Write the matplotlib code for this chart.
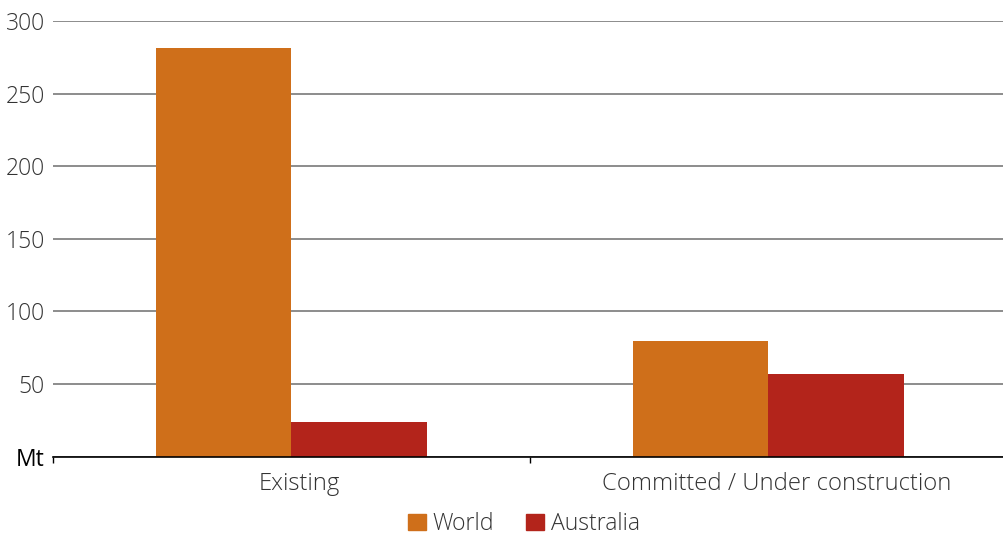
import numpy as np
import matplotlib.pyplot as plt
from matplotlib.patches import Patch
from matplotlib.transforms import ScaledTranslation

categories = ["Existing", "Committed / Under construction"]
world = [281.5, 79.5]
australia = [24, 57]
yticks = [0, 50, 100, 150, 200, 250, 300]
ylabels = ["Mt", "50", "100", "150", "200", "250", "300"]

orange = "#cf6f1a"
red = "#b3241b"

plt.rcParams['font.family'] = ['Open Sans', 'DejaVu Sans']
plt.rcParams['font.weight'] = 'light'

fig = plt.figure(figsize=(10.04, 5.34), dpi=100)
ax = fig.add_axes([53/1004, 1-456.5/534, (1007-53)/1004, (456.5-21)/534])

x = np.arange(len(categories)) + 0.5
w = 0.285
ax.bar(x - w/2, world, w, color=orange, zorder=3)
ax.bar(x + w/2, australia, w, color=red, zorder=3)

ax.set_xlim(0, 2)
ax.set_ylim(0, 300)
ax.set_yticks(yticks)
ax.set_yticklabels(ylabels, fontsize=16.5, color="#333333")
ax.get_yticklabels()[0].set_color("black")
ax.get_yticklabels()[0].set_fontweight("normal")
ax.tick_params(axis='y', length=0, pad=6)
ax.yaxis.grid(True, color="#6e6e6e", linewidth=1.1, zorder=0)

ax.set_xticks([0, 1, 2])
ax.set_xticklabels([])
ax.set_xticks(x, minor=True)
ax.set_xticklabels(categories, minor=True, fontsize=17.2, color="#333333")
ax.tick_params(axis='x', which='major', length=4, width=1, color="black")
ax.tick_params(axis='x', which='minor', length=0, pad=11)
# labels sit a little right of the group centre in the original
shift = ScaledTranslation(8/100, 0, fig.dpi_scale_trans)
for lab in ax.get_xticklabels(minor=True):
    lab.set_transform(lab.get_transform() + shift)

for s in ['top', 'right', 'left']:
    ax.spines[s].set_visible(False)
ax.spines['bottom'].set_color("black")
ax.spines['bottom'].set_linewidth(1.2)
ax.spines['bottom'].set_zorder(4)

handles = [Patch(color=orange, label="World"), Patch(color=red, label="Australia")]
fig.legend(handles=handles, loc='center', bbox_to_anchor=(524/1004, 1-524/534), ncol=2,
           frameon=False, fontsize=16.6, handlelength=0.75, handleheight=0.75,
           handletextpad=0.3, columnspacing=1.4, labelcolor="#333333")

fig.savefig("out.png", dpi=100)
